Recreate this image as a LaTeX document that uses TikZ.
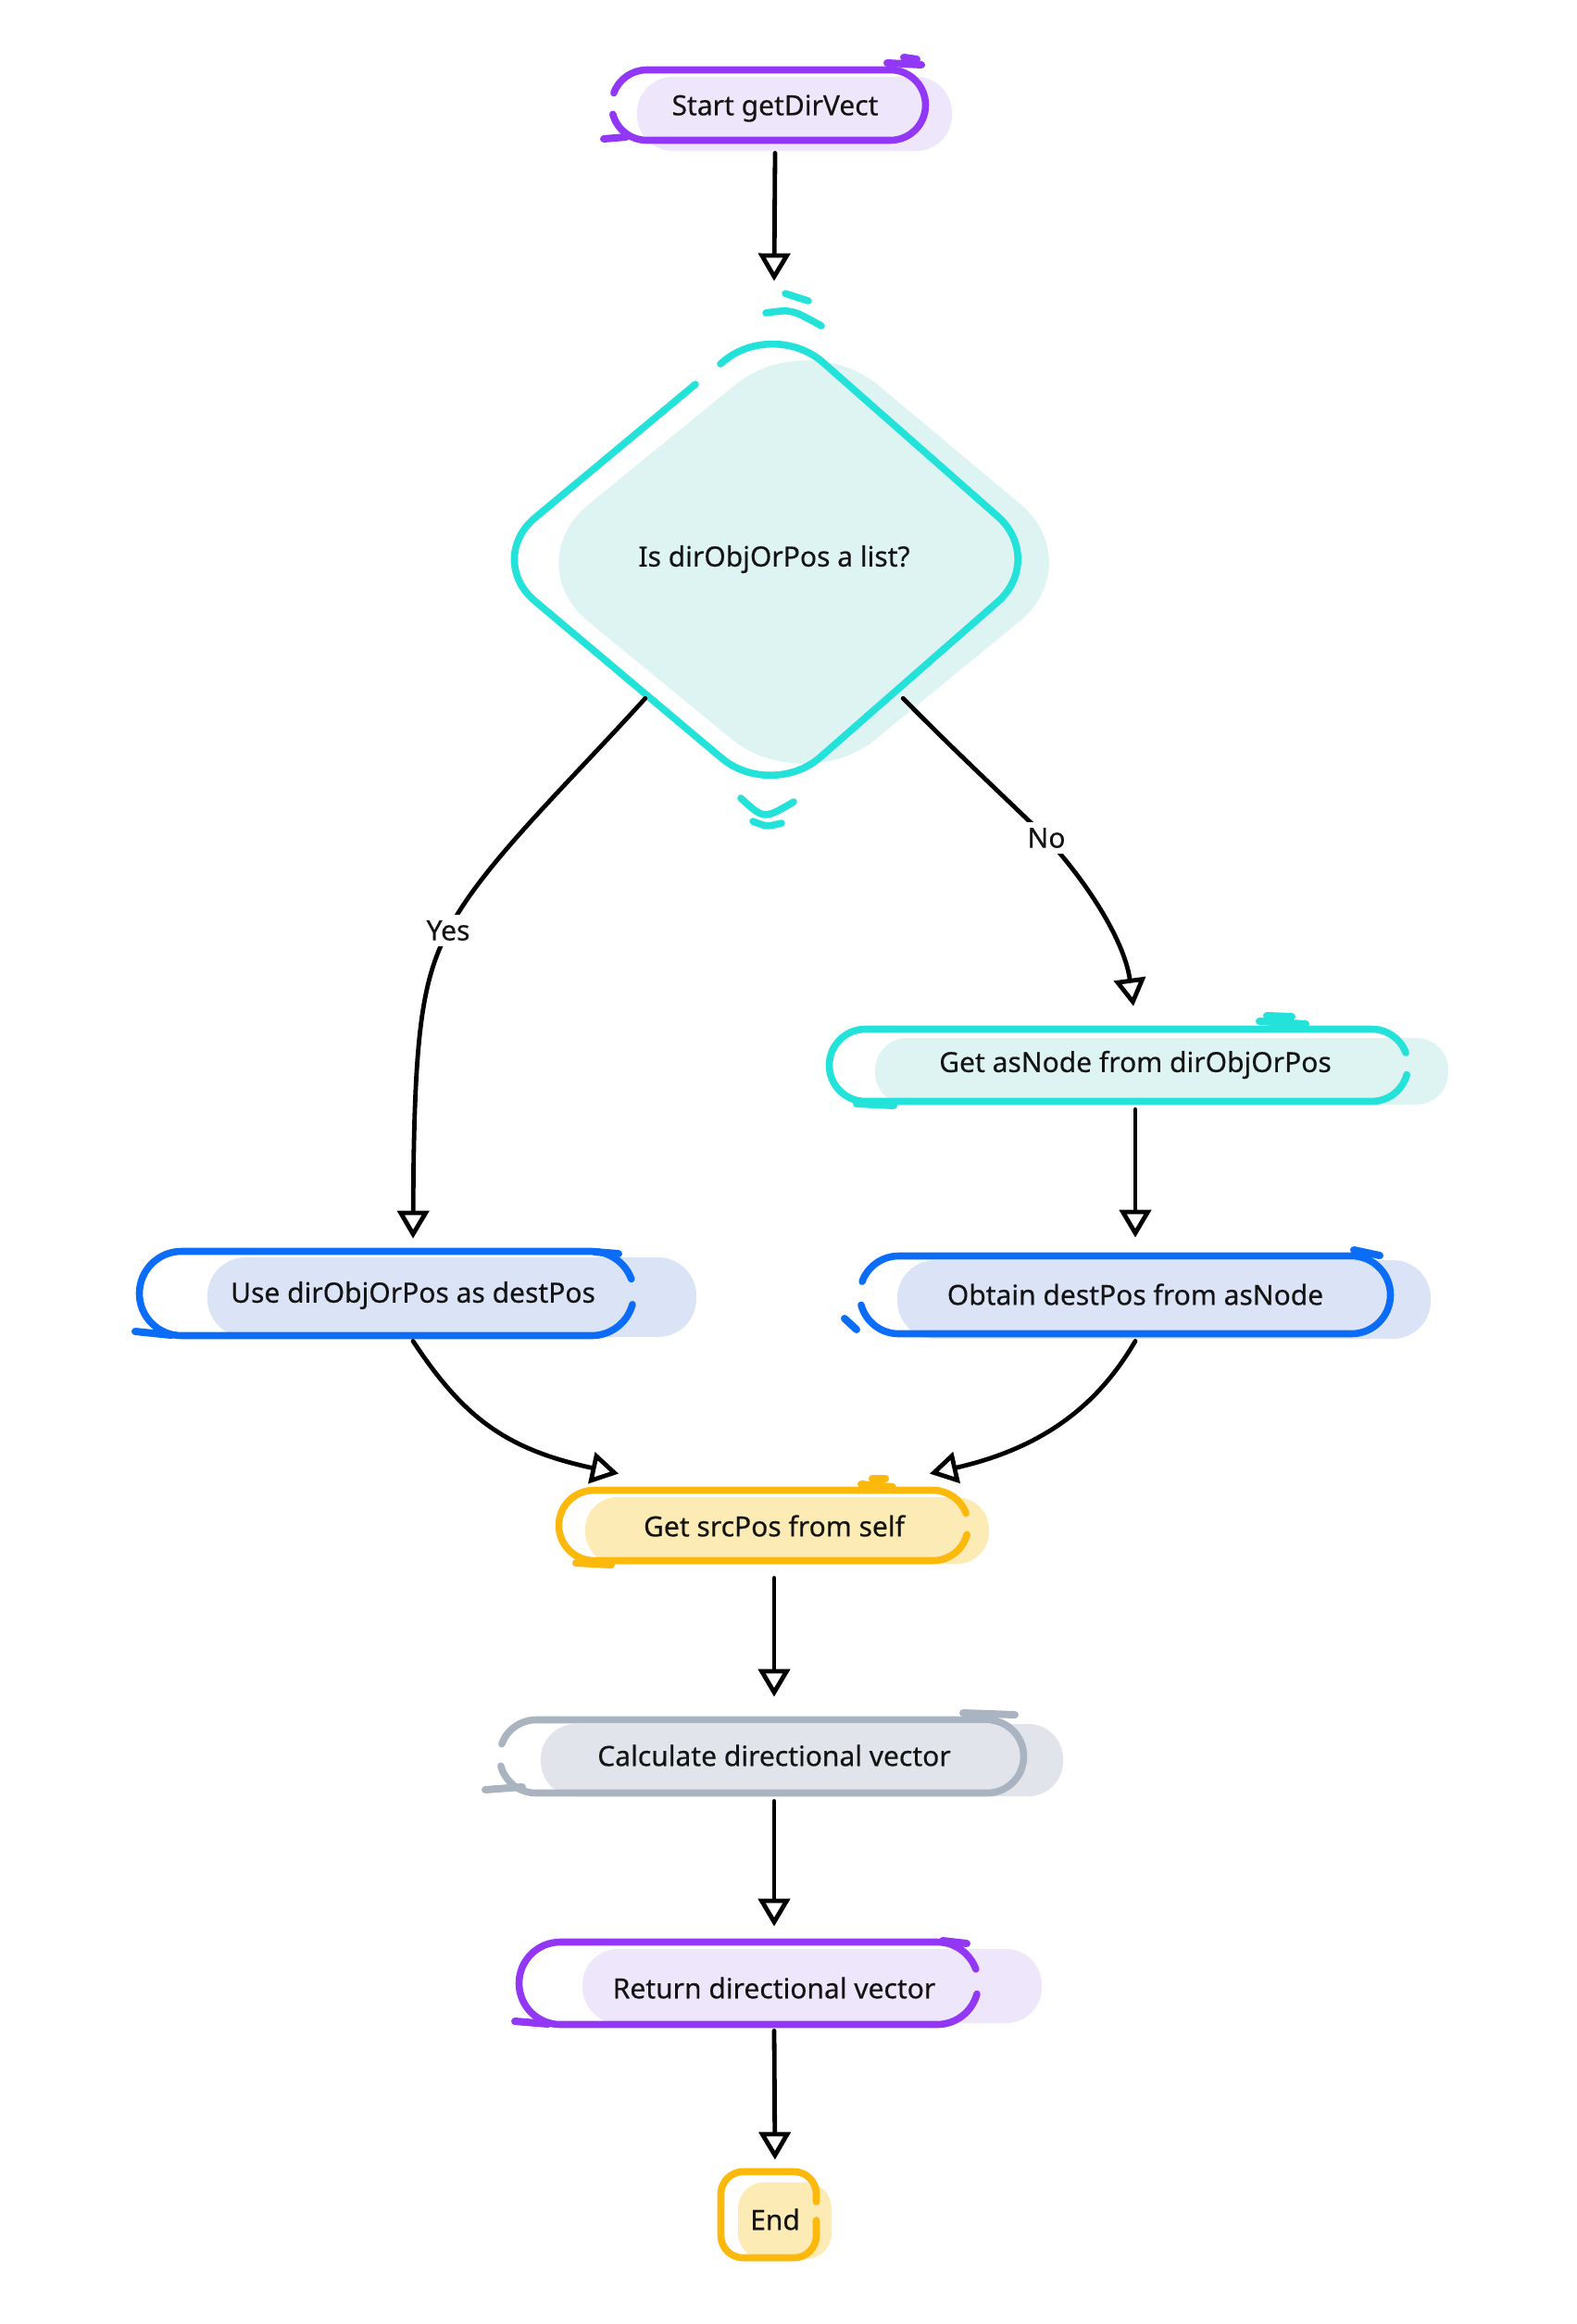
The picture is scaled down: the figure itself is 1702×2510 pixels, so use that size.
\documentclass[tikz,border=0pt]{standalone}
\usepackage{fontspec}
\setmainfont{Noto Sans}
\newfontfamily\nodefont{Noto Sans}[FakeBold=0.4]
\usetikzlibrary{arrows.meta,shapes.geometric,calc}
\definecolor{pline}{HTML}{9137F5}
\definecolor{pfill}{HTML}{EEE6FA}
\definecolor{cline}{HTML}{22E2DA}
\definecolor{cfill}{HTML}{DDF4F3}
\definecolor{bline}{HTML}{0B6CF7}
\definecolor{bfill}{HTML}{DBE4F6}
\definecolor{yline}{HTML}{FCB80B}
\definecolor{yfill}{HTML}{FDEBB5}
\definecolor{gline}{HTML}{A9B4C0}
\definecolor{gfill}{HTML}{E1E5EB}
\definecolor{ink}{HTML}{141414}
% stadium outline, gap on the left side: style, x1, y1, x2, y2 (y positive downwards)
\newcommand\stadL[5]{%
 \pgfmathsetmacro\sR{(#5-#3)/2}%
 \pgfmathsetmacro\sXL{#2+\sR}%
 \pgfmathsetmacro\sXR{#4-\sR}%
 \pgfmathsetmacro\sYM{-(#3+#5)/2}%
 \draw[#1] ({\sXL+\sR*cos(160)},{\sYM+\sR*sin(160)}) arc[start angle=160,end angle=90,radius=\sR]
   -- (\sXR,-#3) arc[start angle=90,end angle=-90,radius=\sR]
   -- (\sXL,-#5) arc[start angle=270,end angle=195,radius=\sR];}
% stadium outline, gap on the right side
\newcommand\stadR[5]{%
 \pgfmathsetmacro\sR{(#5-#3)/2}%
 \pgfmathsetmacro\sXL{#2+\sR}%
 \pgfmathsetmacro\sXR{#4-\sR}%
 \pgfmathsetmacro\sYM{-(#3+#5)/2}%
 \draw[#1] ({\sXR+\sR*cos(20)},{\sYM+\sR*sin(20)}) arc[start angle=20,end angle=90,radius=\sR]
   -- (\sXL,-#3) arc[start angle=90,end angle=270,radius=\sR]
   -- (\sXR,-#5) arc[start angle=270,end angle=345,radius=\sR];}
% offset fill blob: colour, x1, y1, x2, y2
\newcommand\blob[5]{%
 \pgfmathsetmacro\bR{(#5-#3)*0.24}%
 \fill[#1, rounded corners=\bR pt] (#2,-#3) rectangle (#4,-#5);}
\tikzset{
 txt/.style={font=\nodefont\fontsize{15pt}{18pt}\selectfont, text=ink, inner sep=0pt, align=center},
 lbl/.style={font=\nodefont\fontsize{15pt}{18pt}\selectfont, text=ink, fill=white, inner sep=3pt},
 skbase/.style={line width=3.8pt, line cap=round, line join=round},
 skp/.style={skbase, draw=pline},
 skc/.style={skbase, draw=cline},
 skb/.style={skbase, draw=bline},
 sky/.style={skbase, draw=yline},
 skg/.style={skbase, draw=gline},
 tick/.style={line width=4pt, line cap=round},
 conn/.style={draw=black, line width=2.4pt, line cap=round, line join=round,
   -{Triangle[open, length=15pt, width=17pt, line join=miter]}}
}
\begin{document}
\begin{tikzpicture}[x=0.5pt,y=0.5pt]
\useasboundingbox (0,0) rectangle (1702,-2510);

% ---------- Start ----------
\blob{pfill}{688}{83}{1028}{163}
\stadL{skp}{660.5}{75.5}{999.5}{151.5}
\draw[tick, pline] (958,-68) -- (995,-70);
\draw[tick, pline] (976,-62) -- (990,-64);
\draw[tick, pline] (652,-150) -- (676,-148);
\node[txt, minimum height=48pt] (start) at (837,-117) {Start getDirVect};

% ---------- Decision ----------
\fill[cfill, rounded corners=50pt] (872,-352) -- (1178,-608) -- (868,-862) -- (558,-608) -- cycle;
\draw[skc, rounded corners=35pt] (778,-393) -- (836,-345) -- (1130,-604) -- (833,-864) -- (524,-604) -- (751,-415);
\draw[skc] (848,-317) -- (873,-325);
\draw[skc] (827,-338) .. controls (855,-334) .. (887,-352);
\draw[skc] (800,-862) .. controls (825,-885) .. (857,-866);
\draw[skc] (813,-887) .. controls (828,-893) .. (844,-889);
\node[txt, shape=diamond, minimum width=278pt, minimum height=300pt] (dia) at (836,-604) {Is dirObjOrPos a list?};

% ---------- Get asNode ----------
\blob{cfill}{945}{1121}{1564}{1193}
\stadR{skc}{895.5}{1111.5}{1520.5}{1189.5}
\draw[tick, cline] (1360,-1103) -- (1410,-1106);
\draw[tick, cline] (1368,-1097) -- (1395,-1098);
\draw[tick, cline] (925,-1192) -- (965,-1194);
\node[txt, minimum height=48pt] (getas) at (1226,-1150) {Get asNode from dirObjOrPos};

% ---------- Obtain destPos ----------
\blob{bfill}{969}{1361}{1545}{1446}
\stadL{skb}{928.5}{1356.5}{1501.5}{1440.5}
\draw[tick, bline] (1462,-1350) -- (1490,-1356);
\draw[tick, bline] (912,-1424) -- (925,-1436);
\node[txt, minimum height=50pt] (obtain) at (1226,-1398) {Obtain destPos from asNode};

% ---------- Use dirObjOrPos ----------
\blob{bfill}{224}{1358}{752}{1444}
\stadR{skb}{150.5}{1351.5}{684.5}{1442.5}
\draw[tick, bline] (642,-1352) -- (668,-1354);
\draw[tick, bline] (146,-1438) -- (185,-1442);
\node[txt, minimum height=49pt] (use) at (446,-1399) {Use dirObjOrPos as destPos};

% ---------- Get srcPos ----------
\blob{yfill}{632}{1617}{1068}{1689}
\stadR{sky}{603.5}{1609.5}{1045.5}{1685.5}
\draw[tick, yline] (930,-1603) -- (964,-1606);
\draw[tick, yline] (942,-1597) -- (956,-1597);
\draw[tick, yline] (622,-1688) -- (660,-1690);
\node[txt, minimum width=167.5pt, minimum height=56pt] (src) at (836,-1648) {Get srcPos from self};

% ---------- Calculate ----------
\blob{gfill}{584}{1862}{1148}{1940}
\stadL{skg}{539.5}{1857.5}{1105.5}{1936.5}
\draw[tick, gline] (1040,-1850) -- (1096,-1852);
\draw[tick, gline] (524,-1933) -- (564,-1930);
\node[txt, minimum height=49pt] (calc) at (836,-1896) {Calculate directional vector};

% ---------- Return ----------
\blob{pfill}{629}{2105}{1125}{2185}
\stadR{skp}{560.5}{2097.5}{1056.5}{2186.5}
\draw[tick, pline] (1018,-2096) -- (1044,-2099);
\draw[tick, pline] (556,-2183) -- (592,-2186);
\node[txt, minimum height=46pt] (ret) at (836,-2147) {Return directional vector};

% ---------- End ----------
\fill[yfill, rounded corners=14pt] (797,-2357) rectangle (898,-2440);
\draw[sky, rounded corners=12pt] (881.5,-2398) -- (881.5,-2438.5) -- (778.5,-2438.5) -- (778.5,-2345.5) -- (881.5,-2345.5) -- (881.5,-2378);
\node[txt, minimum height=50pt] (endn) at (837,-2397) {End};

% ---------- Connectors ----------
\draw[conn] (start.south) -- (dia.north);
\draw[conn, shorten >=6pt] (dia.south west) .. controls (610,-850) and (520,-935) .. (484,-1005)
   node[lbl] (yeslbl) {Yes}
   .. controls (455,-1060) and (447,-1120) .. (use.north);
\draw[conn, shorten >=7.5pt] (dia.south east) .. controls (1040,-820) and (1100,-875) .. (1130,-905)
   node[lbl] (nolbl) {No}
   .. controls (1180,-960) and (1215,-1020) .. (getas.north);
\draw[conn, shorten >=5.5pt] (getas.south) -- (obtain.north);
\draw[conn] (use.south) .. controls (500,-1530) and (545,-1565) .. (src.north west);
\draw[conn] (obtain.south) .. controls (1190,-1510) and (1135,-1562) .. (src.north east);
\draw[conn, shorten >=7pt] (src.south) -- (calc.north);
\draw[conn, shorten >=10pt] (calc.south) -- (ret.north);
\draw[conn, shorten >=7pt] (ret.south) -- (endn.north);
\end{tikzpicture}
\end{document}
